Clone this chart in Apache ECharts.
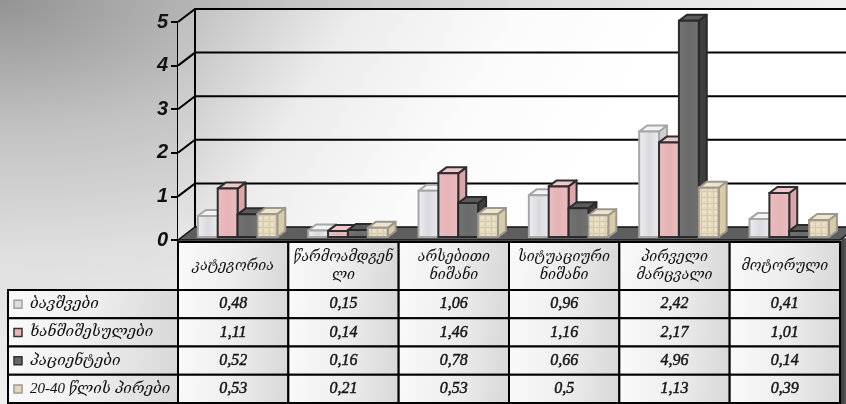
<!DOCTYPE html>
<html>
<head>
<meta charset="utf-8">
<script src="https://cdn.jsdelivr.net/npm/echarts@6/dist/echarts.min.js"></script>
<style>
  html, body { margin: 0; padding: 0; }
  body {
    width: 846px; height: 404px; overflow: hidden;
    background: radial-gradient(ellipse 900px 430px at 0 0, #939393 0%, #c2c2c2 30%, #e0e0e0 60%, #f2f2f2 100%);
  }
  #chart { width: 846px; height: 404px; }
</style>
</head>
<body>
<div id="chart"></div>
<script>
// Categories (header row of the data table, "\n" marks the wrap point)
const categories = [
  'კატეგორია',
  'წარმოამდგენ\nლი',
  'არსებითი\nნიშანი',
  'სიტუაციური\nნიშანი',
  'პირველი\nმარცვალი',
  'მოტორული'
];

// Series names
const seriesNames = ['ბავშვები', 'ხანშიშესულები', 'პაციენტები', '20-40 წლის პირები'];

// Series values, one per category
const children = [0.48, 0.15, 1.06, 0.96, 2.42, 0.41];
const elderly  = [1.11, 0.14, 1.46, 1.16, 2.17, 1.01];
const patients = [0.52, 0.16, 0.78, 0.66, 4.96, 0.14];
const adults   = [0.53, 0.21, 0.53, 0.5, 1.13, 0.39];

// Value axis
const yMin = 0;
const yMax = 5;
const yStep = 1;

const seriesValues = [children, elderly, patients, adults];

// ---- styling ---------------------------------------------------------------
const DX = 17, DY = -13;          // depth of the chart box
const BDX = 8, BDY = -6;          // depth of each column
const BAR_SHIFT_Y = -3;           // columns stand a little behind the floor's front edge

function beigePattern() {
  const c = document.createElement('canvas');
  c.width = 6; c.height = 6;
  const g = c.getContext('2d');
  g.fillStyle = '#e6dbbf'; g.fillRect(0, 0, 6, 6);
  g.fillStyle = '#d6caa9'; g.fillRect(0, 5, 6, 1); g.fillRect(5, 0, 1, 6);
  g.fillStyle = '#eee6d0'; g.fillRect(1, 1, 2, 2);
  return c;
}
function lin(x, y, x2, y2, stops) {
  return { type: 'linear', x: x, y: y, x2: x2, y2: y2,
    colorStops: stops.map((c, i) => ({ offset: i / (stops.length - 1), color: c })) };
}

const barStyles = [
  { front: lin(0, 0, 1, 0, ['#f0f0f2', '#d9d9df', '#ececf0']), side: '#cfcfd4', top: '#f4f4f6', stroke: '#a6a6a6', key: '#dcdcdc', keyStroke: '#a0a0a0' },
  { front: lin(0, 0, 1, 0, ['#eabfc2', '#e6b3b6', '#ebbdc0']), side: '#dca5a9', top: '#f0c8cb', stroke: '#2e2e2e', key: '#e8b5b8', keyStroke: '#333' },
  { front: lin(0, 0, 1, 0, ['#747474', '#6a6a6a', '#727272']), side: '#3e3e3e', top: '#5a5a5a', stroke: '#2a2a2a', key: '#666', keyStroke: '#333' },
  { front: { image: beigePattern(), repeat: 'repeat' }, side: '#d8cca8', top: '#eee5cc', stroke: '#9c9890', key: '#e3d8bc', keyStroke: '#a09a90' }
];

function barRenderer(k) {
  const st = barStyles[k];
  return function (params, api) {
    const ci = api.value(0);
    const v = api.value(1);
    const band = api.size([1, 0])[0];
    const p0 = api.coord([ci, 0]);
    const p1 = api.coord([ci, v]);
    const w = band * 0.18;
    const x0 = p0[0] - band / 2 + band * 0.18 + k * w;
    const yb = p0[1] + BAR_SHIFT_Y;
    const yt = p1[1] + BAR_SHIFT_Y;
    const lw = 2;
    return {
      type: 'group',
      children: [
        { type: 'polygon', shape: { points: [[x0 + w, yt], [x0 + w + BDX, yt + BDY], [x0 + w + BDX, yb + BDY], [x0 + w, yb]] },
          style: { fill: st.side, stroke: st.stroke, lineWidth: lw, lineJoin: 'round' } },
        { type: 'polygon', shape: { points: [[x0, yt], [x0 + BDX, yt + BDY], [x0 + w + BDX, yt + BDY], [x0 + w, yt]] },
          style: { fill: st.top, stroke: st.stroke, lineWidth: lw, lineJoin: 'round' } },
        { type: 'rect', shape: { x: x0, y: yt, width: w, height: yb - yt },
          style: { fill: st.front, stroke: st.stroke, lineWidth: lw } }
      ]
    };
  };
}

// Walls, floor and gridlines of the 3D box
function frameRenderer(params, api) {
  const cs = params.coordSys;
  const left = cs.x, right = cs.x + cs.width;
  const W = api.getWidth();
  const y0 = api.coord([0, yMin])[1];
  const yT = api.coord([0, yMax])[1];
  const els = [];
  els.push({ type: 'polygon', shape: { points: [[left + DX, yT + DY], [W, yT + DY], [W, y0 + DY], [left + DX, y0 + DY]] },
    style: { fill: lin(0, 0, 0.55, 1, ['#c2c2c2', '#ececec', '#fbfbfb', '#ffffff']) } });
  els.push({ type: 'polygon', shape: { points: [[left, yT], [left + DX, yT + DY], [left + DX, y0 + DY], [left, y0]] },
    style: { fill: lin(0, 0, 0, 1, ['#bdbdbd', '#e6e6e6']) } });
  for (let v = yMin + yStep; v <= yMax; v += yStep) {
    const y = api.coord([0, v])[1];
    els.push({ type: 'polyline', shape: { points: [[left, y], [left + DX, y + DY], [W, y + DY]] },
      style: { stroke: '#000', lineWidth: 2, fill: null } });
  }
  els.push({ type: 'line', shape: { x1: left + DX, y1: yT + DY, x2: left + DX, y2: y0 + DY },
    style: { stroke: '#000', lineWidth: 2 } });
  els.push({ type: 'polygon', shape: { points: [[left, y0], [left + DX, y0 + DY], [right + DX, y0 + DY], [right, y0]] },
    style: { fill: '#5e5e5e', stroke: '#111', lineWidth: 1.5 } });
  return { type: 'group', children: els };
}

// ---- data table -----------------------------------------------------------
const T = { legendLeft: 8, colLeft: 178, colRight: 840, headTop: 242, headBottom: 290, bottom: 403 };
const colW = (T.colRight - T.colLeft) / categories.length;
const rowH = (T.bottom - T.headBottom) / seriesNames.length;
const cellFill = lin(0, 0, 1, 0.3, ['#fafafa', '#eeeeee', '#d8d8d8']);
const fmt = v => String(v).replace('.', ',');

const tableEls = [];
categories.forEach((name, i) => {
  const x = T.colLeft + i * colW;
  tableEls.push({ type: 'rect', shape: { x: x, y: T.headTop, width: colW, height: T.headBottom - T.headTop },
    style: { fill: cellFill, stroke: '#000', lineWidth: 2 } });
  tableEls.push({ type: 'text', x: x + colW / 2, y: (T.headTop + T.headBottom) / 2,
    style: { text: name, fill: '#111', font: 'italic 14px "DejaVu Serif", "DejaVu Sans"', align: 'center', verticalAlign: 'middle', lineHeight: 18 } });
});
seriesNames.forEach((name, r) => {
  const y = T.headBottom + r * rowH;
  const st = barStyles[r];
  tableEls.push({ type: 'rect', shape: { x: T.legendLeft, y: y, width: T.colLeft - T.legendLeft, height: rowH },
    style: { fill: cellFill, stroke: '#000', lineWidth: 2 } });
  tableEls.push({ type: 'rect', shape: { x: T.legendLeft + 6, y: y + rowH / 2 - 4, width: 8, height: 8 },
    style: { fill: st.key, stroke: st.keyStroke, lineWidth: 1.5 } });
  tableEls.push({ type: 'text', x: T.legendLeft + 22, y: y + rowH / 2,
    style: { text: name, fill: '#111', font: 'italic 15px "Liberation Serif", "DejaVu Serif", "DejaVu Sans"', align: 'left', verticalAlign: 'middle' } });
  seriesValues[r].forEach((v, i) => {
    const x = T.colLeft + i * colW;
    tableEls.push({ type: 'rect', shape: { x: x, y: y, width: colW, height: rowH },
      style: { fill: cellFill, stroke: '#000', lineWidth: 2 } });
    tableEls.push({ type: 'text', x: x + colW / 2, y: y + rowH / 2,
      style: { text: fmt(v), fill: '#151515', stroke: '#151515', lineWidth: 0.45, font: 'italic 16px "Liberation Serif"', align: 'center', verticalAlign: 'middle' } });
  });
});
// dark shadow along the right edge of the table
tableEls.push({ type: 'rect', shape: { x: T.colRight + 1, y: T.headTop - 4, width: 8, height: 404 - T.headTop + 4, r: [4, 0, 0, 0] },
  style: { fill: lin(0, 0, 1, 0, ['#3a3a3a', '#6a6a6a']) } });

// ---- chart -----------------------------------------------------------------
const chart = echarts.init(document.getElementById('chart'), null, { renderer: 'canvas' });
chart.setOption({
  backgroundColor: 'transparent',
  animation: false,
  grid: { left: 178, right: 6, top: 22, bottom: 164 },
  xAxis: {
    type: 'category', data: categories,
    axisLine: { show: false }, axisTick: { show: false }, axisLabel: { show: false }
  },
  yAxis: {
    type: 'value', min: yMin, max: yMax, interval: yStep,
    axisLine: { show: true, lineStyle: { color: '#000', width: 2 } },
    axisTick: { show: true, inside: false, length: 7, lineStyle: { color: '#000', width: 2 } },
    axisLabel: { margin: 10, color: '#111', fontSize: 20, fontWeight: 'bold', fontStyle: 'italic', fontFamily: 'Liberation Sans' },
    splitLine: { show: false }
  },
  graphic: [{ type: 'group', silent: true, children: tableEls }],
  series: [
    { type: 'custom', name: 'frame', z: 1, renderItem: frameRenderer, data: [[0, 0]], encode: { x: 0, y: 1 }, silent: true }
  ].concat(seriesNames.map((name, k) => ({
    type: 'custom', name: name, z: 3,
    renderItem: barRenderer(k),
    encode: { x: 0, y: 1 },
    data: seriesValues[k].map((v, i) => [i, v])
  })))
});
</script>
</body>
</html>
